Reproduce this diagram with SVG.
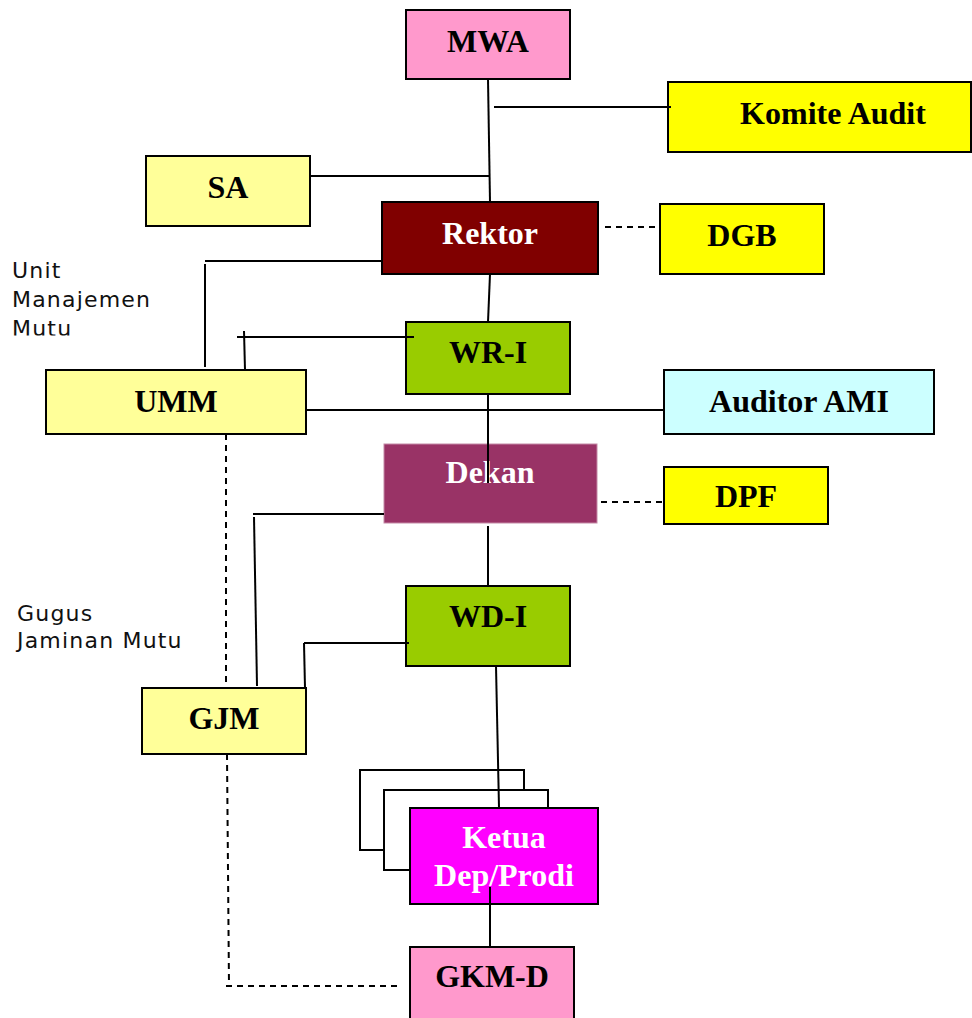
<svg xmlns="http://www.w3.org/2000/svg" width="972" height="1018" viewBox="0 0 972 1018">
<style>
.box{stroke:#000;stroke-width:2}
.t{font-family:"Liberation Serif","Times New Roman",serif;font-weight:bold;font-size:32px;text-anchor:middle;fill:#000}
.w{fill:#fff}
.lbl{font-family:"DejaVu Sans",Verdana,sans-serif;font-size:22px;letter-spacing:1.2px;fill:#111}
.ln{stroke:#000;stroke-width:2;fill:none}
.dash{stroke:#000;stroke-width:2;fill:none;stroke-dasharray:6 5}
</style>
<defs>
<clipPath id="clipUmm"><rect x="0" y="250" width="200" height="85.5"/></clipPath>
</defs>
<rect width="972" height="1018" fill="#fff"/>

<g id="label-umm" clip-path="url(#clipUmm)">
<text class="lbl" x="12" y="278">Unit</text>
<text class="lbl" x="12" y="307">Manajemen</text>
<text class="lbl" x="12" y="336">Mutu</text>
</g>
<g id="label-gjm">
<text class="lbl" x="17" y="621">Gugus</text>
<text class="lbl" x="17" y="648">Jaminan Mutu</text>
</g>

<g id="mwa"><rect class="box" x="406" y="10" width="164" height="69" fill="#FF99CC"/><text class="t" x="488" y="52">MWA</text></g>
<g id="komite-audit"><rect class="box" x="668" y="82" width="303" height="70" fill="#FFFF00"/><text class="t" x="833" y="124">Komite Audit</text></g>
<g id="sa"><rect class="box" x="146" y="156" width="164" height="70" fill="#FFFF99"/><text class="t" x="228" y="198">SA</text></g>
<g id="rektor"><rect class="box" x="382" y="202" width="216" height="72" fill="#800000"/><text class="t w" x="490" y="244">Rektor</text></g>
<g id="dgb"><rect class="box" x="660" y="204" width="164" height="70" fill="#FFFF00"/><text class="t" x="742" y="246">DGB</text></g>
<g id="wr-i"><rect class="box" x="406" y="322" width="164" height="72" fill="#99CC00"/><text class="t" x="488" y="363">WR-I</text></g>
<g id="umm"><rect class="box" x="46" y="370" width="260" height="64" fill="#FFFF99"/><text class="t" x="176" y="412">UMM</text></g>
<g id="auditor-ami"><rect class="box" x="664" y="370" width="270" height="64" fill="#CCFFFF"/><text class="t" x="799" y="412">Auditor AMI</text></g>
<g id="dekan"><rect x="384" y="444" width="213" height="79" fill="#993366" stroke="#c48aa6" stroke-width="1"/><text class="t w" x="490" y="483">Dekan</text></g>
<g id="dpf"><rect class="box" x="664" y="467" width="164" height="57" fill="#FFFF00"/><text class="t" x="746" y="507">DPF</text></g>
<g id="wd-i"><rect class="box" x="406" y="586" width="164" height="80" fill="#99CC00"/><text class="t" x="488" y="627">WD-I</text></g>
<g id="gjm"><rect class="box" x="142" y="688" width="164" height="66" fill="#FFFF99"/><text class="t" x="224" y="729">GJM</text></g>
<g id="ketua-dep-prodi">
<rect class="box" x="360" y="770" width="164" height="80" fill="#fff"/>
<rect class="box" x="384" y="790" width="164" height="80" fill="#fff"/>
<rect class="box" x="410" y="808" width="188" height="96" fill="#FF00FF"/>
<text class="t w" x="504" y="848">Ketua</text>
<text class="t w" x="504" y="886">Dep/Prodi</text>
</g>
<g id="gkm-d"><rect class="box" x="410" y="947" width="164" height="80" fill="#FF99CC"/><text class="t" x="492" y="987">GKM-D</text></g>

<g id="connectors">
<line class="ln" x1="488" y1="79" x2="490" y2="202"/>
<line class="ln" x1="494" y1="107" x2="671" y2="107"/>
<line class="ln" x1="310" y1="176" x2="489" y2="176"/>
<line class="dash" x1="605" y1="227" x2="658" y2="227"/>
<line class="ln" x1="205" y1="261" x2="382" y2="261"/>
<line class="ln" x1="205" y1="264" x2="205" y2="367"/>
<line class="ln" x1="490" y1="274" x2="488" y2="322"/>
<line class="ln" x1="237" y1="337" x2="414" y2="337"/>
<line class="ln" x1="244" y1="331" x2="245" y2="370"/>
<line class="ln" x1="306" y1="410" x2="664" y2="410"/>
<line class="ln" x1="488" y1="394" x2="488" y2="483"/>
<line class="dash" x1="601" y1="502" x2="663" y2="502"/>
<line class="ln" x1="488" y1="526" x2="488" y2="586"/>
<line class="ln" x1="253" y1="514" x2="384" y2="514"/>
<line class="ln" x1="254" y1="517" x2="257" y2="686"/>
<line class="ln" x1="304" y1="643" x2="409" y2="643"/>
<line class="ln" x1="304" y1="643" x2="305" y2="688"/>
<line class="ln" x1="496" y1="666" x2="499" y2="808"/>
<line class="ln" x1="490" y1="887" x2="490" y2="947"/>
<line class="dash" x1="226" y1="434" x2="226" y2="688"/>
<line class="dash" x1="227" y1="754" x2="229" y2="986"/>
<line class="dash" x1="226" y1="986" x2="401" y2="986"/>
</g>
</svg>
